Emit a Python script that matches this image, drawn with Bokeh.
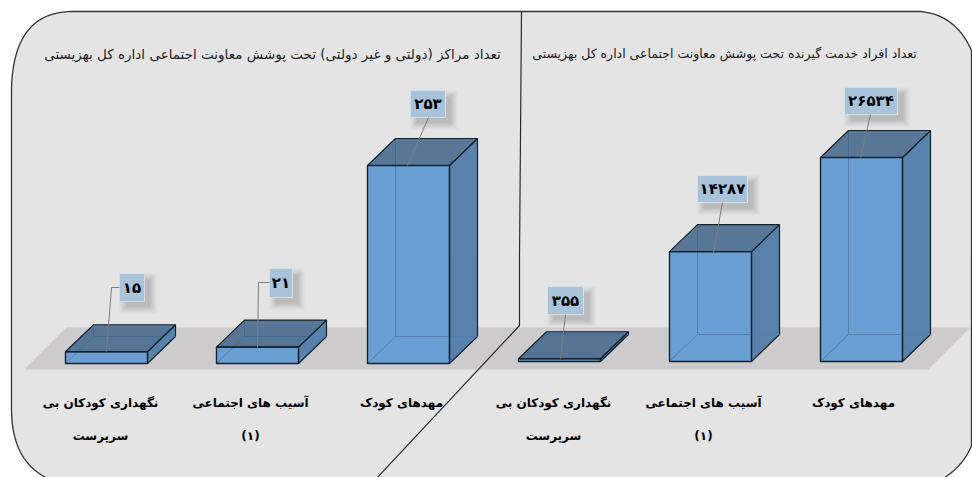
import numpy as np
from bokeh.plotting import figure
from bokeh.models import Range1d
from bokeh.core.properties import value
from bokeh.embed import file_html
from bokeh.resources import INLINE

# ---------- data ----------
left_title = "تعداد مراکز (دولتی و غیر دولتی) تحت پوشش معاونت اجتماعی اداره کل بهزیستی"
right_title = "تعداد افراد خدمت گیرنده تحت پوشش معاونت اجتماعی اداره کل بهزیستی"
cat_line1 = ["نگهداری کودکان بی", "آسیب های اجتماعی", "مهدهای کودک"]
cat_line2 = ["سرپرست", "(۱)", ""]
left_values = [15, 21, 253]
right_values = [355, 14287, 26534]

# ---------- layout (page pixels of the 972x477 window) ----------
W, H = 972, 477
BAR_W, DX, DY = 82, 28, 27
FONT = value("DejaVu Sans")
C_PANEL, C_FLOOR = "#e4e4e4", "#cdcbcb"
C_FRONT, C_SIDE, C_TOP, C_EDGE = "#6a9fd3", "#5882ac", "#46698c", "#14222e"

p = figure(width=W, height=H, x_range=Range1d(0, W), y_range=Range1d(H, 0),
           x_axis_type=None, y_axis_type=None, toolbar_location=None,
           output_backend="svg", min_border=0, outline_line_color=None)
p.grid.visible = False
p.background_fill_color = "white"
p.border_fill_color = "white"


def bez(a, c, b, n=24):
    t = np.linspace(0, 1, n)[:, None]
    a, c, b = map(np.array, (a, c, b))
    return (1 - t) ** 2 * a + 2 * t * (1 - t) * c + t ** 2 * b


outline = np.vstack([
    bez((11, 88), (13, 11), (72, 11)),
    bez((920, 11), (955, 14), (971, 50)),
    bez((971, 445), (962, 468), (936, 482)),
    bez((58, 482), (11, 468), (11, 408)),
])
p.patch(outline[:, 0], outline[:, 1], fill_color=C_PANEL, line_color="#333333", line_width=1.3)
p.patch([66, 970, 928, 24], [327, 327, 369, 369], fill_color=C_FLOOR, line_color=None)
p.line([521, 519, 519, 375], [11, 258, 325, 479], line_color="#2a2a2a", line_width=1.2)


def fa(n):
    return str(n).translate(str.maketrans("0123456789", "۰۱۲۳۴۵۶۷۸۹"))


def panel(name, values, xs, base, top_px, boxes, leaders, label_x, title, title_x, fs_title):
    k = (base - top_px) / max(values)  # pixels per value unit
    p.extra_y_ranges[name] = Range1d((base - H) / k, base / k)
    dv = DY / k
    for v, x in zip(values, xs):
        p.patch([x, x + BAR_W, x + BAR_W, x], [0, 0, v, v], y_range_name=name,
                fill_color=C_FRONT, line_color=None)
        p.patch([x + BAR_W, x + BAR_W + DX, x + BAR_W + DX, x + BAR_W],
                [0, dv, v + dv, v], y_range_name=name,
                fill_color=C_SIDE, line_color=C_EDGE, line_width=1.2)
        p.line([x, x + DX, x + DX], [0, dv, v + dv], y_range_name=name,
               line_color="#527fae", line_width=1)
        p.line([x + DX, x + BAR_W + DX], [dv, dv], y_range_name=name,
               line_color="#527fae", line_width=1)
        p.patch([x, x + BAR_W, x + BAR_W + DX, x + DX], [v, v, v + dv, v + dv], y_range_name=name,
                fill_color=C_TOP, fill_alpha=0.88, line_color=C_EDGE, line_width=1.2)
        p.patch([x, x + BAR_W, x + BAR_W, x], [0, 0, v, v], y_range_name=name,
                fill_color=None, line_color=C_EDGE, line_width=1.4)
    for v, (x0, x1, y0, y1), lead in zip(values, boxes, leaders):
        for grow, alpha in ((6, 0.05), (4, 0.07), (2, 0.09), (0, 0.1)):
            p.quad(left=x0 + 6 - grow, right=x1 + 6 + grow, top=y0 + 6 - grow, bottom=y1 + 6 + grow,
                   fill_color="#555555", fill_alpha=alpha, line_color=None)
        p.quad(left=x0, right=x1, top=y0, bottom=y1, fill_color="#a9c3da",
               line_color="#d3e0ea", line_width=1)
        p.line([q[0] for q in lead], [q[1] for q in lead], line_color="#7d7d7d", line_width=1)
        p.text([(x0 + x1) / 2], [(y0 + y1) / 2], text=[fa(v)], text_font=FONT, text_font_style="bold",
               text_font_size="15px", text_align="center", text_baseline="middle", text_color="#000000")
    p.text([title_x], [53], text=[title], text_font=FONT, text_font_size=fs_title,
           text_align="center", text_baseline="middle", text_color="#222222")
    p.text(label_x, [402] * 3, text=cat_line1, text_font=FONT, text_font_style="bold",
           text_font_size="12px", text_align="center", text_baseline="middle", text_color="#000000")
    p.text(label_x, [435] * 3, text=cat_line2, text_font=FONT, text_font_style="bold",
           text_font_size="12px", text_align="center", text_baseline="middle", text_color="#000000")


panel("left", left_values, [65, 216, 367], 363, 165,
      [(119, 144, 273, 301), (269, 292, 268, 297), (410, 445, 90, 117)],
      [[(119, 287), (111, 287), (106, 351)], [(269, 282), (258, 282), (257, 347)], [(428, 117), (407, 165)]],
      [100, 250, 401], left_title, 272, "13.5px")
panel("right", right_values, [518, 669, 820], 361, 157,
      [(547, 583, 286, 314), (697, 747, 175, 202), (844, 897, 87, 114)],
      [[(565, 314), (560, 358)], [(722, 202), (713, 252)], [(870, 114), (860, 157)]],
      [553, 703, 853], right_title, 724, "12.5px")

open("out.html", "w").write(file_html(p, INLINE))
